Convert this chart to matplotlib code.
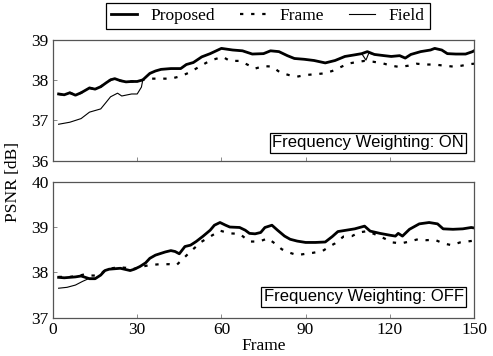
import matplotlib
matplotlib.use("Agg")
import matplotlib.pyplot as plt

# Top panel: frequency weighting ON
on_prop_x = [2, 4, 6, 8, 10, 11.5, 13, 15, 17, 19, 20.5, 22, 24, 26, 28, 30, 32, 34.5, 36.5, 38.5,
             42, 45.5, 47.5, 50, 53, 56, 60, 64, 67.5, 71,
             75, 77.5, 80.5, 83.5, 86, 89.5, 93, 97, 100.5, 104, 107.5, 110, 112, 114.5, 118,
             120.5, 123.5, 125.5, 127.5, 131, 134.5, 136, 138.5, 140.5, 143.5, 147, 149.5, 150]
on_prop_y = [37.65, 37.63, 37.68, 37.62, 37.68, 37.74, 37.8, 37.77, 37.83, 37.93, 38.0, 38.03, 37.98,
             37.95, 37.96, 37.96, 38.0, 38.16, 38.22, 38.26, 38.28, 38.28, 38.38, 38.43, 38.57, 38.65,
             38.78, 38.74, 38.72, 38.64,
             38.65, 38.72, 38.7, 38.6, 38.53, 38.51, 38.48, 38.42, 38.48, 38.58, 38.62, 38.65,
             38.7, 38.63, 38.6, 38.58, 38.6, 38.54, 38.63, 38.7, 38.74, 38.78, 38.74, 38.65,
             38.64, 38.64, 38.7, 38.72]

on_frame_x = [2, 4, 6, 8, 10, 11.5, 13, 15, 17, 19, 20.5, 22, 24, 26, 28, 30, 32, 35, 42, 45.5, 48.5,
              51, 54.5, 57, 60.5, 63, 66.5, 69.5, 72, 75, 78, 81, 84, 87, 90, 93.5, 96.5, 99.5,
              102, 105, 108, 111, 114, 117.5, 120.5, 123.5, 126.5, 129.5, 133, 136, 139.5, 142.5,
              145.5, 148.5, 150]
on_frame_y = [37.65, 37.63, 37.68, 37.62, 37.68, 37.74, 37.8, 37.77, 37.83, 37.93, 38.0, 38.03, 37.98,
              37.95, 37.96, 37.96, 38.0, 38.03, 38.03, 38.09, 38.18, 38.28, 38.42, 38.5, 38.57,
              38.47, 38.47, 38.37, 38.28, 38.34, 38.33, 38.18, 38.12, 38.08, 38.12, 38.14, 38.16,
              38.22, 38.3, 38.4, 38.44, 38.47, 38.45, 38.41, 38.35, 38.32, 38.35, 38.4, 38.38,
              38.38, 38.35, 38.33, 38.35, 38.39, 38.4]

on_field_x = [2, 6, 10, 13, 17, 19, 20.5, 23, 24.5, 28, 30, 31.5, 32, 34.5, 36.5, 38.5, 42, 45.5,
              47.5, 50, 53, 56, 60, 64, 67.5, 71, 75, 77.5, 80.5, 83.5, 86, 89.5, 93, 97, 100.5,
              104, 107.5, 110, 111.5, 112.5, 114.5, 118, 120.5, 123.5, 125.5, 127.5, 131, 134.5,
              136, 138.5, 140.5, 143.5, 147, 149.5, 150]
on_field_y = [36.9, 36.95, 37.04, 37.2, 37.28, 37.45, 37.58, 37.67, 37.6, 37.65, 37.65, 37.82, 38.0,
              38.16, 38.22, 38.26, 38.28, 38.28, 38.38, 38.43, 38.57, 38.65, 38.78, 38.74, 38.72,
              38.64, 38.65, 38.72, 38.7, 38.6, 38.53, 38.51, 38.48, 38.42, 38.48, 38.58, 38.62,
              38.65, 38.49, 38.66, 38.63, 38.6, 38.58, 38.6, 38.54, 38.63, 38.7, 38.74, 38.78,
              38.74, 38.65, 38.64, 38.64, 38.7, 38.72]

# Bottom panel: frequency weighting OFF
off_prop_x = [2, 4, 6, 8, 10, 11.5, 13, 15, 17, 18.5, 20, 24, 27.5, 29, 31, 33, 34.5, 36.5, 38, 40,
              42, 43.5, 45, 47, 49, 51, 53.5, 56, 57.5, 59.5, 61.5, 63, 66.5, 68.5, 70, 72, 74,
              75.5, 78, 80, 82.5, 84.5, 87, 90, 93.5, 97, 99.5, 101.5, 104.5, 107.5, 111, 113,
              116.5, 120, 122, 123, 124.5, 127, 130.5, 134, 137, 139, 142.5, 146, 149, 150]
off_prop_y = [37.89, 37.88, 37.89, 37.9, 37.92, 37.89, 37.86, 37.86, 37.94, 38.04, 38.07, 38.09,
              38.04, 38.07, 38.13, 38.21, 38.31, 38.38, 38.41, 38.45, 38.48, 38.46, 38.41, 38.57,
              38.6, 38.68, 38.8, 38.93, 39.04, 39.1, 39.04, 39.0, 38.99, 38.93, 38.86, 38.85, 38.88,
              38.99, 39.04, 38.93, 38.8, 38.73, 38.69, 38.66, 38.66, 38.67, 38.79, 38.9, 38.93,
              38.96, 39.02, 38.91, 38.86, 38.82, 38.8, 38.86, 38.8, 38.95, 39.07, 39.1, 39.07,
              38.96, 38.95, 38.96, 38.99, 38.98]

off_frame_x = [2, 6, 9.5, 11.5, 13, 15, 17, 18.5, 20, 22, 24, 26, 27.5, 29, 31, 34.5, 38, 41.5, 44,
               46.5, 49, 51, 52.5, 56, 59.5, 63, 66.5, 70, 73.5, 76.5, 79, 81.5, 84.5, 87, 90,
               92.5, 96, 98.5, 100.5, 103.5, 106.5, 109, 112, 115.5, 118, 121, 124, 127, 130,
               133, 136, 139, 142, 145, 147.5, 150]
off_frame_y = [37.9, 37.9, 37.93, 37.96, 37.93, 37.93, 37.96, 38.05, 38.08, 38.1, 38.11, 38.1,
               38.07, 38.08, 38.12, 38.16, 38.18, 38.18, 38.16, 38.31, 38.46, 38.57, 38.66, 38.79,
               38.92, 38.86, 38.85, 38.68, 38.68, 38.75, 38.64, 38.51, 38.43, 38.38, 38.41, 38.43,
               38.47, 38.57, 38.64, 38.79, 38.8, 38.88, 38.91, 38.82, 38.75, 38.66, 38.64, 38.68,
               38.73, 38.71, 38.72, 38.64, 38.6, 38.66, 38.68, 38.7]

off_field_x = [2, 5, 8, 10.5, 13, 15, 17, 18.5, 20, 24, 27.5, 29, 31, 33, 34.5, 36.5, 38, 40, 42,
               43.5, 45, 47, 49, 51, 53.5, 56, 57.5, 59.5, 61.5, 63, 66.5, 68.5, 70, 72, 74, 75.5,
               78, 80, 82.5, 84.5, 87, 90, 93.5, 97, 99.5, 101.5, 104.5, 107.5, 111, 113, 116.5,
               120, 122, 123, 124.5, 127, 130.5, 134, 137, 139, 142.5, 146, 149, 150]
off_field_y = [37.65, 37.67, 37.72, 37.8, 37.87, 37.87, 37.94, 38.04, 38.07, 38.09, 38.04, 38.07,
               38.13, 38.21, 38.31, 38.38, 38.41, 38.45, 38.48, 38.46, 38.41, 38.57, 38.6, 38.68,
               38.8, 38.93, 39.04, 39.1, 39.04, 39.0, 38.99, 38.93, 38.86, 38.85, 38.88, 38.99,
               39.04, 38.93, 38.8, 38.73, 38.69, 38.66, 38.66, 38.67, 38.79, 38.9, 38.93, 38.96,
               39.02, 38.91, 38.86, 38.82, 38.8, 38.86, 38.8, 38.95, 39.07, 39.1, 39.07, 38.96,
               38.95, 38.96, 38.99, 38.98]

x_ticks = [0, 30, 60, 90, 120, 150]
series_names = ["Proposed", "Frame", "Field"]

plt.rcParams["font.family"] = ["Liberation Serif", "DejaVu Serif"]
plt.rcParams["font.size"] = 12.5

fig = plt.figure(figsize=(4.93, 3.56), dpi=100)
ax1 = fig.add_axes([0.1075, 0.549, 0.854, 0.34])
ax2 = fig.add_axes([0.1075, 0.1076, 0.854, 0.382])

prop_style = dict(color="black", lw=2.0, solid_joinstyle="round")
frame_style = dict(color="black", lw=1.6, linestyle=(0, (1.5, 3.5)))
field_style = dict(color="black", lw=0.8)

ax1.plot(on_frame_x, on_frame_y, **frame_style)
ax1.plot(on_field_x, on_field_y, **field_style)
ax1.plot(on_prop_x, on_prop_y, **prop_style)

ax2.plot(off_frame_x, off_frame_y, **frame_style)
ax2.plot(off_field_x, off_field_y, **field_style)
ax2.plot(off_prop_x, off_prop_y, **prop_style)

ax1.set_ylim(36, 39)
ax1.set_yticks([36, 37, 38, 39])
ax2.set_ylim(37, 40)
ax2.set_yticks([37, 38, 39, 40])

for ax in (ax1, ax2):
    ax.set_xlim(0, 150)
    ax.set_xticks(x_ticks)
    ax.tick_params(direction="in", length=3, width=0.6, color="#777777", pad=3)
    for sp in ax.spines.values():
        sp.set_color("#555555")
        sp.set_linewidth(0.9)
ax1.set_xticklabels([])

ax1.text(0.976, 0.085, "Frequency Weighting: ON", transform=ax1.transAxes,
         ha="right", va="bottom", family=["Liberation Sans"], fontsize=12,
         bbox=dict(boxstyle="square,pad=0.15", fc="white", ec="black", lw=0.9))
ax2.text(0.976, 0.1, "Frequency Weighting: OFF", transform=ax2.transAxes,
         ha="right", va="bottom", family=["Liberation Sans"], fontsize=12,
         bbox=dict(boxstyle="square,pad=0.15", fc="white", ec="black", lw=0.9))

fig.text(0.026, 0.49, "PSNR [dB]", rotation=90, ha="center", va="center")
fig.text(0.534, 0.027, "Frame", ha="center", va="center")

handles = [plt.Line2D([], [], **prop_style),
           plt.Line2D([], [], **frame_style),
           plt.Line2D([], [], **field_style)]
leg = fig.legend(handles, series_names, loc="center", bbox_to_anchor=(0.543, 0.955), ncol=3,
                 fancybox=False, edgecolor="black", framealpha=1, handlelength=1.5,
                 columnspacing=1.4, handletextpad=0.8, borderpad=0.3)
leg.get_frame().set_linewidth(0.9)

fig.savefig("out.png", dpi=100)
